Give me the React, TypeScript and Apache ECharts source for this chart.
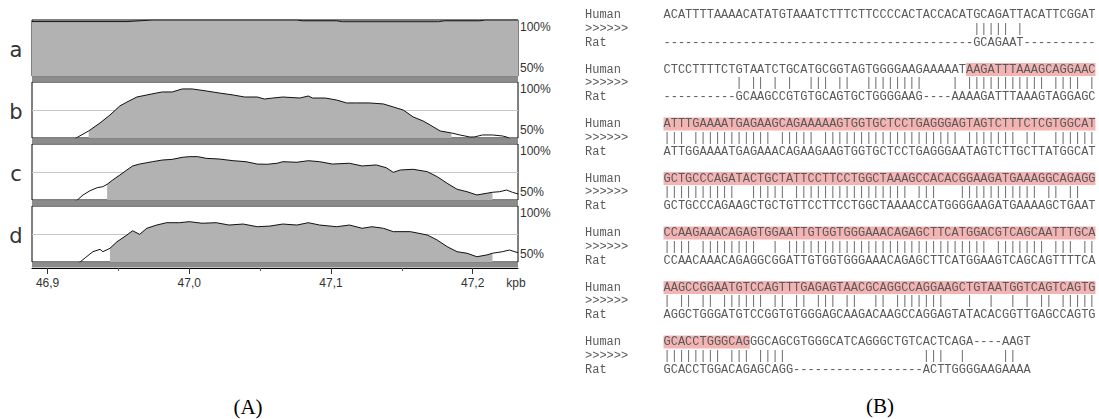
import React, { useEffect, useRef } from 'react';
import * as echarts from 'echarts';

// ---------- Panel A data (position in bp, conservation %) ----------
const panelLetters = ['a', 'b', 'c', 'd'];

const curveA: [number, number][] = [
  [46889, 98.6], [46956, 98.6], [46974, 100], [47076, 100], [47080, 99.3], [47104, 99.3],
  [47108, 98.5], [47176, 98.5], [47180, 99.3], [47205, 99.3], [47209, 100], [47232, 100],
];

const curveB: [number, number][] = [
  [46889, 45], [46918, 48], [46921, 50.6], [46929, 56.3], [46937, 63.4], [46944, 70.5], [46951, 78.6],
  [46956, 82.1], [46963, 86.6], [46970, 88.4], [46977, 90.2], [46981, 91.1], [46988, 91.1],
  [46995, 93.8], [47002, 93.8], [47012, 92.0], [47021, 90.2], [47031, 88.4], [47039, 86.6],
  [47048, 86.6], [47053, 84.8], [47059, 85.7], [47066, 86.6], [47078, 85.7], [47084, 87.5],
  [47087, 85.7], [47096, 85.7], [47104, 83.9], [47111, 81.3], [47118, 81.3], [47127, 81.3],
  [47137, 80.4], [47144, 77.7], [47151, 75.0], [47158, 68.8], [47165, 65.2], [47170, 61.6],
  [47177, 56.3], [47185, 54.5], [47191, 52.7], [47198, 50.9], [47201, 50.9], [47207, 52.7],
  [47214, 52.7], [47221, 51.8], [47224, 50.9], [47228, 48], [47232, 48],
];

const curveC: [number, number][] = [
  [46889, 45], [46918, 48], [46921, 50.0], [46925, 54.5], [46930, 58.3], [46935, 61.0], [46939, 61.9],
  [46942, 64.0], [46946, 67.9], [46951, 72.3], [46956, 76.8], [46960, 80.4], [46965, 82.1],
  [46970, 83.3], [46974, 84.2], [46981, 85.7], [46988, 86.3], [46995, 88.1], [47000, 88.7],
  [47006, 88.7], [47012, 87.2], [47021, 86.6], [47031, 85.1], [47040, 84.2], [47048, 82.1],
  [47055, 81.9], [47062, 82.8], [47066, 84.2], [47076, 83.7], [47084, 85.1], [47092, 84.2],
  [47101, 82.1], [47113, 82.8], [47122, 80.4], [47132, 81.3], [47139, 78.8], [47144, 74.7],
  [47149, 76.8], [47158, 77.4], [47168, 75.3], [47175, 70.8], [47182, 64.9], [47189, 59.6],
  [47196, 57.4], [47203, 54.5], [47210, 56.0], [47214, 56.9], [47219, 57.4], [47224, 58.9],
  [47228, 56.9], [47232, 55.4],
];

const curveD: [number, number][] = [
  [46889, 45], [46920, 48], [46923, 50.0], [46927, 54.2], [46932, 59.2], [46937, 61.3], [46939, 59.2],
  [46944, 62.2], [46949, 68.1], [46956, 74.1], [46960, 77.9], [46965, 74.7], [46970, 80.1],
  [46977, 83.0], [46984, 85.1], [46993, 85.1], [47000, 86.0], [47009, 84.6], [47019, 85.1],
  [47028, 83.0], [47038, 83.9], [47048, 81.5], [47057, 82.1], [47066, 83.9], [47076, 83.0],
  [47084, 85.1], [47092, 83.0], [47104, 81.5], [47113, 83.0], [47122, 80.1], [47129, 81.5],
  [47137, 80.1], [47144, 77.1], [47156, 77.1], [47168, 74.1], [47175, 69.6], [47182, 63.7],
  [47189, 59.2], [47196, 57.8], [47203, 54.7], [47210, 56.3], [47214, 57.8], [47221, 59.2],
  [47226, 60.7], [47232, 58.3],
];

const curves = [curveA, curveB, curveC, curveD];
// shaded (conserved) region of each curve, in bp
const fillRanges: [number, number][] = [
  [46889, 47232], [46929, 47185], [46942, 47214], [46944, 47214],
];

const xMin = 46889;
const xMax = 47232;
const majorTicks = [46900, 47000, 47100, 47200];
const minorTicks = [46950, 47050, 47150];
const yMin = 50;
const yMax = 100;

// ---------- Panel B data (alignment) ----------
const humanSeq = [
  'ACATTTTAAAACATATGTAAATCTTTCTTCCCCACTACCACATGCAGATTACATTCGGAT',
  'CTCCTTTTCTGTAATCTGCATGCGGTAGTGGGGAAGAAAAATAAGATTTAAAGCAGGAAC',
  'ATTTGAAAATGAGAAGCAGAAAAAGTGGTGCTCCTGAGGGAGTAGTCTTTCTCGTGGCAT',
  'GCTGCCCAGATACTGCTATTCCTTCCTGGCTAAAGCCACACGGAAGATGAAAGGCAGAGG',
  'CCAAGAAACAGAGTGGAATTGTGGTGGGAAACAGAGCTTCATGGACGTCAGCAATTTGCA',
  'AAGCCGGAATGTCCAGTTTGAGAGTAACGCAGGCCAGGAAGCTGTAATGGTCAGTCAGTG',
  'GCACCTGGGCAGGGCAGCGTGGGCATCAGGGCTGTCACTCAGA----AAGT',
];
const ratSeq = [
  '-------------------------------------------GCAGAAT----------',
  '----------GCAAGCCGTGTGCAGTGCTGGGGAAG----AAAAGATTTAAAGTAGGAGC',
  'ATTGGAAAATGAGAAACAGAAGAAGTGGTGCTCCTGAGGGAATAGTCTTGCTTATGGCAT',
  'GCTGCCCAGAAGCTGCTGTTCCTTCCTGGCTAAAACCATGGGGAAGATGAAAAGCTGAAT',
  'CCAACAAACAGAGGCGGATTGTGGTGGGAAACAGAGCTTCATGGAAGTCAGCAGTTTTCA',
  'AGGCTGGGATGTCCGGTGTGGGAGCAAGACAAGCCAGGAGTATACACGGTTGAGCCAGTG',
  'GCACCTGGACAGAGCAGG------------------ACTTGGGGAAGAAAA',
];
// highlighted (conserved) character ranges of the human line: [start, end)
const highlights: [number, number][][] = [
  [], [[42, 60]], [[0, 60]], [[0, 60]], [[0, 60]], [[0, 60]], [[0, 12]],
];
const rowNames = ['Human', '>>>>>>', 'Rat'];

const matchLine = (h: string, r: string) =>
  h.split('').map((c, i) => (c !== '-' && c === r[i] ? '|' : '\u00A0')).join('');

// ---------- layout ----------
const GRID_LEFT = 32;
const GRID_WIDTH = 486;
const GRID_TOPS = [20, 82, 144, 206];
const GRID_H = 56;
const SANS = '"Liberation Sans", Arial, sans-serif';
const MONO = '"Liberation Mono", "Courier New", monospace';
const SERIF = '"Liberation Serif", "Times New Roman", serif';

const SEQ_X = 663.5;
const LABEL_X = 585;
const CHAR_W = 7.2;
const BLOCK_Y0 = 15;
const BLOCK_DY = 54.5;
const ROW_DY = 13.8;

const boxStyle: React.CSSProperties = {
  position: 'fixed', left: 0, top: 0, width: 1099, height: 419,
};

export default function App() {
  const ref = useRef<HTMLDivElement>(null);
  const textRef = useRef<HTMLDivElement>(null);

  useEffect(() => {
    if (!ref.current || !textRef.current) return;
    const chart = echarts.init(ref.current, undefined, { renderer: 'svg' });
    const textChart = echarts.init(textRef.current, undefined, { renderer: 'svg' });

    const grids = GRID_TOPS.map((t) => ({
      left: GRID_LEFT, top: t, width: GRID_WIDTH, height: GRID_H,
      show: true, borderColor: '#000', borderWidth: 1, backgroundColor: '#fff',
      outerBoundsMode: 'none',
    }));

    const xAxes: any[] = GRID_TOPS.map((_, i) => {
      const last = i === 3;
      return {
        type: 'value', gridIndex: i, min: xMin, max: xMax, position: 'bottom',
        offset: last ? 6 : 0,
        show: last,
        axisLine: { show: last, onZero: false, lineStyle: { color: '#000', width: 1 } },
        axisTick: { show: last, customValues: majorTicks, length: 6, lineStyle: { color: '#333' } },
        axisLabel: {
          show: last, customValues: majorTicks, margin: 9,
          formatter: (v: number) => (v / 1000).toFixed(1).replace('.', ','),
          fontFamily: SANS, fontSize: 12, color: '#333',
        },
        splitLine: { show: false },
      };
    });
    xAxes.push({
      type: 'value', gridIndex: 3, min: xMin, max: xMax, position: 'bottom', offset: 6,
      axisLine: { show: false, onZero: false },
      axisTick: { show: true, customValues: minorTicks, length: 3, lineStyle: { color: '#555' } },
      axisLabel: { show: false },
      splitLine: { show: false },
    });

    const yAxes: any[] = [];
    GRID_TOPS.forEach((_, i) => {
      yAxes.push({
        type: 'value', gridIndex: i, min: yMin, max: yMax, interval: 25, position: 'right',
        axisLine: { show: false }, axisTick: { show: false },
        splitLine: { show: true, lineStyle: { color: ['rgba(0,0,0,0)', '#c8c8c8', 'rgba(0,0,0,0)'], width: 1 } },
        axisLabel: {
          customValues: [100], formatter: '{value}%', verticalAlign: 'top', lineHeight: 14,
          margin: 2, fontFamily: SANS, fontSize: 12, color: '#333',
        },
      });
    });
    GRID_TOPS.forEach((_, i) => {
      yAxes.push({
        type: 'value', gridIndex: i, min: yMin, max: yMax, position: 'right',
        axisLine: { show: false }, axisTick: { show: false }, splitLine: { show: false },
        axisLabel: {
          customValues: [50], formatter: '{value}%', verticalAlign: 'bottom', lineHeight: 16,
          margin: 2, fontFamily: SANS, fontSize: 12, color: '#333',
        },
      });
    });

    const series: any[] = [];
    curves.forEach((data, i) => {
      const [s, e] = fillRanges[i];
      series.push({
        type: 'line', xAxisIndex: i, yAxisIndex: i, silent: true,
        data: data.filter(([x]) => x >= s && x <= e),
        showSymbol: false, symbol: 'none',
        lineStyle: { width: 0, opacity: 0 },
        areaStyle: { color: '#b2b2b2', opacity: 1, origin: 'start' },
        clip: true, z: 2,
      });
      series.push({
        type: 'line', xAxisIndex: i, yAxisIndex: i, silent: true,
        data, showSymbol: false, symbol: 'none',
        lineStyle: { color: '#111', width: 1 },
        clip: true, z: 3,
      });
    });

    const graphic: any[] = [];
    // bands between panels
    GRID_TOPS.forEach((t) => {
      graphic.push({
        type: 'rect', z: 10,
        shape: { x: GRID_LEFT, y: t + GRID_H + 0.5, width: GRID_WIDTH, height: 5 },
        style: { fill: '#8c8c8c' },
      });
    });
    // panel letters
    panelLetters.forEach((l, i) => {
      graphic.push({
        type: 'text', x: 16, y: GRID_TOPS[i] + 30, z: 10,
        style: {
          text: l, font: '21px "DejaVu Sans", sans-serif', fill: '#333',
          textAlign: 'center', align: 'center', textVerticalAlign: 'middle', verticalAlign: 'middle',
        },
      });
    });
    graphic.push({
      type: 'text', x: 516, y: 283, z: 10,
      style: {
        text: 'kpb', font: `12px ${SANS}`, fill: '#333',
        textAlign: 'center', align: 'center', textVerticalAlign: 'middle', verticalAlign: 'middle',
      },
    });
    graphic.push({
      type: 'text', x: 248, y: 407, z: 10,
      style: {
        text: '(A)', font: `21px ${SERIF}`, fill: '#000',
        textAlign: 'center', align: 'center', textVerticalAlign: 'middle', verticalAlign: 'middle',
      },
    });
    graphic.push({
      type: 'text', x: 880, y: 406, z: 10,
      style: {
        text: '(B)', font: `21px ${SERIF}`, fill: '#000',
        textAlign: 'center', align: 'center', textVerticalAlign: 'middle', verticalAlign: 'middle',
      },
    });

    // alignment: highlight boxes (base layer) and text (overlay layer)
    const textGraphic: any[] = [];
    humanSeq.forEach((h, k) => {
      const r = ratSeq[k];
      const yH = BLOCK_Y0 + BLOCK_DY * k;
      highlights[k].forEach(([s, e]) => {
        graphic.push({
          type: 'rect', z: 5,
          shape: { x: SEQ_X + s * CHAR_W, y: yH - 6.5, width: (e - s) * CHAR_W, height: 13 },
          style: { fill: '#f5b4b4' },
        });
      });
      const seqs = [h, matchLine(h, r), r];
      seqs.forEach((txt, j) => {
        const y = yH + j * ROW_DY;
        textGraphic.push({
          type: 'text', x: LABEL_X, y,
          style: {
            text: rowNames[j], font: `12px ${MONO}`, fill: '#5a5a5a',
            textAlign: 'left', align: 'left', textVerticalAlign: 'middle', verticalAlign: 'middle',
          },
        });
        textGraphic.push({
          type: 'text', x: SEQ_X, y,
          style: {
            text: txt, font: `12px ${MONO}`, fill: j === 1 ? '#6a6a6a' : '#5a5a5a',
            textAlign: 'left', align: 'left', textVerticalAlign: 'middle', verticalAlign: 'middle',
          },
        });
      });
    });

    chart.setOption({
      animation: false,
      backgroundColor: '#fff',
      grid: grids,
      xAxis: xAxes,
      yAxis: yAxes,
      series,
      graphic: { elements: graphic },
    });

    textChart.setOption({
      animation: false,
      backgroundColor: 'rgba(0,0,0,0)',
      graphic: { elements: textGraphic },
    });

    return () => {
      chart.dispose();
      textChart.dispose();
    };
  }, []);

  return (
    <div style={{ position: 'fixed', left: 0, top: 0, width: 1099, height: 419 }}>
      <div ref={ref} style={{ ...boxStyle, background: '#fff' }} />
      <div
        ref={textRef}
        style={{ ...boxStyle, pointerEvents: 'none', filter: 'grayscale(1)' }}
      />
    </div>
  );
}
